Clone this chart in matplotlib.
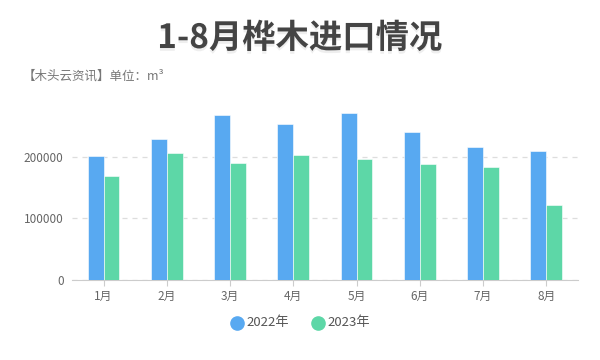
import matplotlib
matplotlib.use('Agg')
from matplotlib import pyplot as plt
import matplotlib.patheffects as pe
import numpy as np

plt.rcParams['font.family'] = ['Noto Sans CJK SC', 'DejaVu Sans']

# 数据
months = ['1月', '2月', '3月', '4月', '5月', '6月', '7月', '8月']
y2022 = [201000, 229000, 268000, 253000, 270000, 240000, 216000, 209000]
y2023 = [169000, 206000, 190000, 203000, 197000, 188000, 184000, 121000]
yticks = [0, 100000, 200000]
series = ['2022年', '2023年']

c22 = '#58a9f1'
c23 = '#5dd7a7'

fig = plt.figure(figsize=(6, 3.6), dpi=100)
ax = fig.add_axes([0.12, 0.222, 0.843, 0.48])

x = np.arange(len(months))
w = 0.25
ax.bar(x - w / 2, y2022, w, color=c22, edgecolor='white', linewidth=0.4, zorder=3)
ax.bar(x + w / 2, y2023, w, color=c23, edgecolor='white', linewidth=0.4, zorder=3)

ax.set_xlim(-0.5, len(months) - 0.5)
ax.set_ylim(0, 280000)
ax.set_yticks(yticks)
ax.set_yticklabels([str(v) for v in yticks], fontsize=8.5, color='#666666')
ax.set_xticks(x)
ax.set_xticklabels(months, fontsize=8.5, color='#666666')
ax.tick_params(axis='y', length=0, pad=6)
ax.tick_params(axis='x', length=4, color='#cccccc', pad=3)
ax.grid(axis='y', linestyle=(0, (4, 4)), color='#dddddd', linewidth=0.9, zorder=0)
for s in ['top', 'right', 'left']:
    ax.spines[s].set_visible(False)
ax.spines['bottom'].set_color('#cccccc')

# 标题
fig.text(0.5, 0.893, '1-8月桦木进口情况', ha='center', va='center', fontsize=24,
         fontweight='bold', color='#444444',
         path_effects=[pe.SimplePatchShadow(offset=(0, -2), shadow_rgbFace='#aaaaaa', alpha=0.2),
                       pe.Normal()])
fig.text(0.037, 0.79, '【木头云资讯】单位：m³', ha='left', va='center', fontsize=9,
         color='#777777')

# 图例
for cx, col, lab in [(0.395, c22, series[0]), (0.53, c23, series[1])]:
    fig.add_artist(plt.Line2D([cx], [0.103], marker='o', markersize=9.5, color=col,
                              linestyle='none', transform=fig.transFigure))
    fig.text(cx + 0.016, 0.103, lab, ha='left', va='center', fontsize=9.5, color='#555555')

fig.savefig('out.png', dpi=100)
